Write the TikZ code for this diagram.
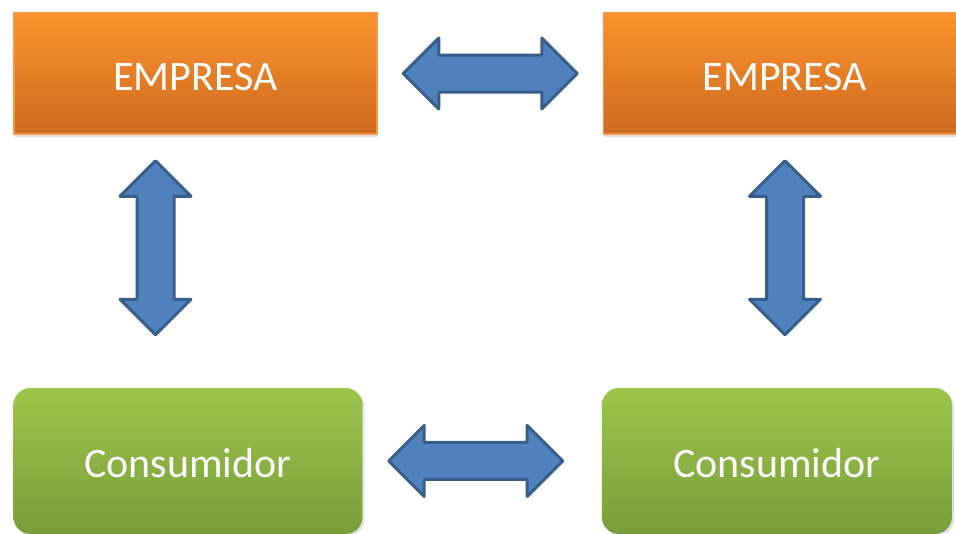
\documentclass[tikz,border=0pt]{standalone}
\usepackage{fontspec}
\setmainfont{Carlito}
\usepackage{tikz}
\usetikzlibrary{positioning,shapes.arrows,shadows}
\definecolor{orangetop}{RGB}{251,146,46}
\definecolor{orangebot}{RGB}{206,106,30}
\definecolor{orangeline}{RGB}{247,150,70}
\definecolor{greentop}{RGB}{157,197,74}
\definecolor{greenbot}{RGB}{120,158,58}
\definecolor{arrowfill}{RGB}{79,129,189}
\definecolor{arrowline}{RGB}{56,93,138}
\tikzset{empresa/.style={rectangle,draw=orangeline,line width=1.5pt,top color=orangetop,bottom color=orangebot,
    minimum width=363pt,minimum height=121pt,text=white,text height=33pt,text depth=0pt,
    font=\fontsize{42}{50}\selectfont,drop shadow={opacity=.25,shadow xshift=1pt,shadow yshift=-3pt}}}
\tikzset{consumidor/.style={rectangle,rounded corners=17pt,top color=greentop,bottom color=greenbot,
    minimum width=349pt,minimum height=146pt,text=white,text height=33pt,text depth=0pt,
    font=\fontsize{42}{50}\selectfont,drop shadow={opacity=.25,shadow xshift=2pt,shadow yshift=-2pt}}}
\tikzset{flecha/.style={double arrow,draw=arrowline,fill=arrowfill,line width=3pt,line join=round,
    inner xsep=0pt,inner ysep=17pt,double arrow head extend=17pt,double arrow head indent=0pt,
    minimum height=174pt}}

\begin{document}
\begin{tikzpicture}[x=1pt,y=-1pt,node distance=225pt]
  \useasboundingbox (0,0) rectangle (956,533);
  \node[empresa](E1) at (195.5,73.5){EMPRESA};
  \node[empresa,right=of E1](E2){EMPRESA};
  \node[consumidor,below right=253pt and 0pt of E1.south west](C1){Consumidor};
  \node[consumidor,right=239pt of C1,minimum width=350pt](C2){Consumidor};

  \path (E1.east) -- (E2.west) node[flecha,midway](F12){};
  \path (C1.east) -- (C2.west) node[flecha,pos=.473](FC12){};
  \path ([xshift=-40pt]E1.south) -- ([xshift=-40pt]E1.south |- C1.north) node[flecha,pos=.447,sloped](F1){};
  \path (E2.south) -- (E2.south |- C2.north) node[flecha,pos=.447,sloped](F2){};
\end{tikzpicture}
\end{document}
